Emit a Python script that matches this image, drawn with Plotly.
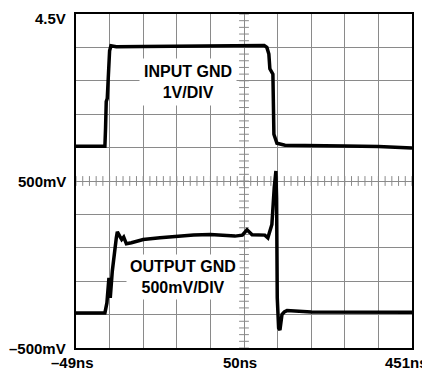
import numpy as np
import plotly.graph_objects as go

# scope settings
T_START = -49      # ns at left edge
NS_PER_DIV = 50
INPUT_GND = 6      # division where input ground sits
INPUT_V_PER_DIV = 1.0
OUTPUT_GND = 1
OUTPUT_V_PER_DIV = 0.5

# input channel, time (ns) vs volts
input_t = [-49, -6, -5, -4, -2.5, 1, 3, 11, 51, 101, 151, 201, 231, 235, 238,
           239.5, 244, 245.5, 250, 262, 301, 351, 401, 451]
input_v = [0.04, 0.04, 0.6, 1.38, 1.47, 2.9, 3.05, 3.02, 3.03, 3.04, 3.05, 3.06,
           3.06, 3.0, 2.8, 2.36, 2.2, 0.4, 0.13, 0.07, 0.05, 0.05, 0.03, -0.01]

# output channel, time (ns) vs volts
output_t = [-49, -6, -3, 0, 2, 5, 11, 12.5, 16, 19, 22, 26, 33.5, 51, 76, 101,
            126, 151, 176, 187.5, 198.5, 205.5, 213, 232, 236.5, 242.5, 246,
            248.5, 249.5, 250.5, 252.5, 254.5, 257.5, 261, 265, 301, 451]
output_v = [0.025, 0.025, 0.175, 0.55, 0.25, 0.65, 1.15, 1.24, 1.175, 1.125,
            1.16, 1.06, 1.075, 1.125, 1.15, 1.175, 1.19, 1.2, 1.185, 1.175,
            1.19, 1.27, 1.195, 1.19, 1.15, 1.35, 1.9, 2.15, 1.75, 0.25, -0.2,
            -0.23, 0.0, 0.04, 0.06, 0.04, 0.035]

y_labels = ["4.5V", "500mV", "\u2013500mV"]
x_labels = ["\u201349ns", "50ns", "451ns"]

FONT = "Liberation Sans, Arial, sans-serif"
GRID = "#8a8a8a"

in_div = INPUT_GND + np.array(input_v) / INPUT_V_PER_DIV
out_div = OUTPUT_GND + np.array(output_v) / OUTPUT_V_PER_DIV
t_end = T_START + 10 * NS_PER_DIV
t_mid = T_START + 5 * NS_PER_DIV

fig = go.Figure()

# small tick marks along the centre cross
minor_t = np.arange(T_START, t_end + 0.1, NS_PER_DIV / 5)
minor_y = np.arange(0, 10.01, 0.2)
fig.add_trace(go.Scatter(
    x=minor_t, y=[5] * len(minor_t), mode="markers", hoverinfo="skip",
    marker=dict(symbol="line-ns", size=7, line=dict(color=GRID, width=1)),
))
fig.add_trace(go.Scatter(
    x=[t_mid] * len(minor_y), y=minor_y, mode="markers", hoverinfo="skip",
    marker=dict(symbol="line-ew", size=7, line=dict(color=GRID, width=1)),
))

fig.add_trace(go.Scatter(x=input_t, y=in_div, mode="lines",
                         line=dict(color="black", width=3.5)))
fig.add_trace(go.Scatter(x=output_t, y=out_div, mode="lines",
                         line=dict(color="black", width=3.5)))

fig.update_xaxes(range=[T_START, t_end], tick0=T_START, dtick=NS_PER_DIV,
                 showgrid=True, gridcolor=GRID, gridwidth=1, zeroline=False,
                 showticklabels=False, showline=True, linecolor="black",
                 linewidth=2, mirror=True, ticks="")
fig.update_yaxes(range=[0, 10], dtick=1, showgrid=True, gridcolor=GRID,
                 gridwidth=1, zeroline=False, showticklabels=False,
                 showline=True, linecolor="black", linewidth=2, mirror=True,
                 ticks="")

lab_font = dict(family=FONT, size=15, color="black")
for yp, dy, txt in zip([1, 0.5, 0], [-4, 0, 0], y_labels):
    fig.add_annotation(xref="paper", yref="paper", x=0, y=yp, text=f"<b>{txt}</b>",
                       showarrow=False, xanchor="right", yanchor="middle",
                       xshift=-8, yshift=dy, font=lab_font)
for xp, dx, txt in zip([0, 0.5, 1], [-4, -4, -6], x_labels):
    fig.add_annotation(xref="paper", yref="paper", x=xp, y=0, text=f"<b>{txt}</b>",
                       showarrow=False, xanchor="center", yanchor="middle",
                       xshift=dx, yshift=-14, font=lab_font)

box_font = dict(family=FONT, size=16, color="black")
fig.add_annotation(xref="paper", yref="paper", x=0.333, y=0.795,
                   xanchor="center", yanchor="middle",
                   text="<b>INPUT GND<br>1V/DIV</b>", showarrow=False,
                   bgcolor="white", borderpad=4, font=box_font)
fig.add_annotation(xref="paper", yref="paper", x=0.318, y=0.214,
                   xanchor="center", yanchor="middle",
                   text="<b>OUTPUT GND<br>500mV/DIV</b>", showarrow=False,
                   bgcolor="white", borderpad=3, font=box_font)

# page body adds an 8px margin, so the figure is sized to fit inside it
fig.update_layout(
    width=422, height=364,
    margin=dict(l=68, r=18, t=4, b=24),
    paper_bgcolor="white", plot_bgcolor="white",
    showlegend=False,
)

fig.write_html("out.html")
